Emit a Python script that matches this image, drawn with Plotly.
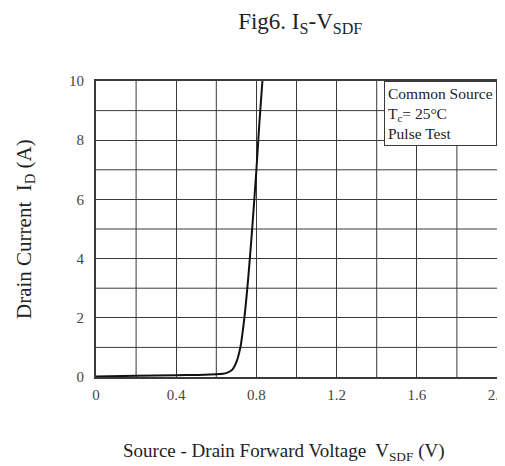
import plotly.graph_objects as go

# Data
vsdf = [0.0, 0.2, 0.4, 0.5, 0.6, 0.65, 0.68, 0.70, 0.72, 0.74, 0.76, 0.78, 0.80, 0.815, 0.83]
i_s = [0.02, 0.04, 0.06, 0.07, 0.09, 0.13, 0.25, 0.5, 1.0, 2.0, 3.4, 5.1, 7.0, 8.6, 10.0]

x_ticks = [0, 0.4, 0.8, 1.2, 1.6, 2.0]
x_tick_labels = ["0", "0.4", "0.8", "1.2", "1.6", "2.0"]
y_ticks = [0, 2, 4, 6, 8, 10]
y_tick_labels = ["0", "2", "4", "6", "8", "10"]

FONT = "Liberation Serif, Times New Roman, serif"
GRID = "#3a3a3a"

fig = go.Figure()
fig.add_trace(go.Scatter(
    x=vsdf, y=i_s, mode="lines",
    line=dict(color="#111111", width=2, shape="spline", smoothing=0.6),
    showlegend=False, hoverinfo="skip",
))

# minor grid (every 0.2 V and 1 A)
for v in [0.2, 0.6, 1.0, 1.4, 1.8]:
    fig.add_shape(type="line", xref="x", yref="y", x0=v, x1=v, y0=0, y1=10,
                  line=dict(color=GRID, width=1), layer="below")
for a in [1, 3, 5, 7, 9]:
    fig.add_shape(type="line", xref="x", yref="y", x0=0, x1=2, y0=a, y1=a,
                  line=dict(color=GRID, width=1), layer="below")

fig.add_annotation(
    xref="paper", yref="paper", x=1.0, y=1.0, xanchor="right", yanchor="top",
    text="Common Source<br>T<sub>c</sub>= 25°C<br>Pulse Test",
    showarrow=False, align="left",
    font=dict(family=FONT, size=15.5, color="#222"),
    bgcolor="white", bordercolor=GRID, borderwidth=1, borderpad=3,
)

# axis titles as annotations for exact placement
fig.add_annotation(
    xref="paper", yref="paper", x=0.47, y=0, yshift=-75, xanchor="center", yanchor="middle",
    text="Source - Drain Forward Voltage  V<sub>SDF</sub> (V)", showarrow=False,
    font=dict(family=FONT, size=19, color="#222"),
)
fig.add_annotation(
    xref="paper", yref="paper", x=0, xshift=-71, y=0.5, xanchor="center", yanchor="middle",
    text="Drain Current  I<sub>D</sub> (A)", showarrow=False, textangle=-90,
    font=dict(family=FONT, size=21, color="#222"),
)

fig.update_layout(
    width=497, height=458,
    margin=dict(l=88, r=8, t=73, b=89),
    paper_bgcolor="white", plot_bgcolor="white",
    font=dict(family=FONT, color="#333"),
    title=dict(text="Fig6. I<sub>S</sub>-V<sub>SDF</sub>", x=0.588, xanchor="center",
               y=0.972, yanchor="middle", font=dict(family=FONT, size=23, color="#222")),
    xaxis=dict(range=[0, 2.0], tickvals=x_ticks, ticktext=x_tick_labels,
               showgrid=True, gridcolor=GRID, gridwidth=1, automargin=False,
               showline=True, linecolor=GRID, linewidth=2, mirror=True,
               zeroline=False, ticks="outside", ticklen=3, tickcolor="rgba(0,0,0,0)",
               ticklabeloverflow="allow",
               tickfont=dict(family=FONT, size=15, color="#444")),
    yaxis=dict(range=[0, 10], tickvals=y_ticks, ticktext=y_tick_labels,
               showgrid=True, gridcolor=GRID, gridwidth=1, automargin=False,
               showline=True, linecolor=GRID, linewidth=2, mirror=True,
               zeroline=False, ticks="outside", ticklen=7, tickcolor="rgba(0,0,0,0)",
               ticklabeloverflow="allow",
               tickfont=dict(family=FONT, size=15, color="#444")),
)

fig.write_html("out.html")
